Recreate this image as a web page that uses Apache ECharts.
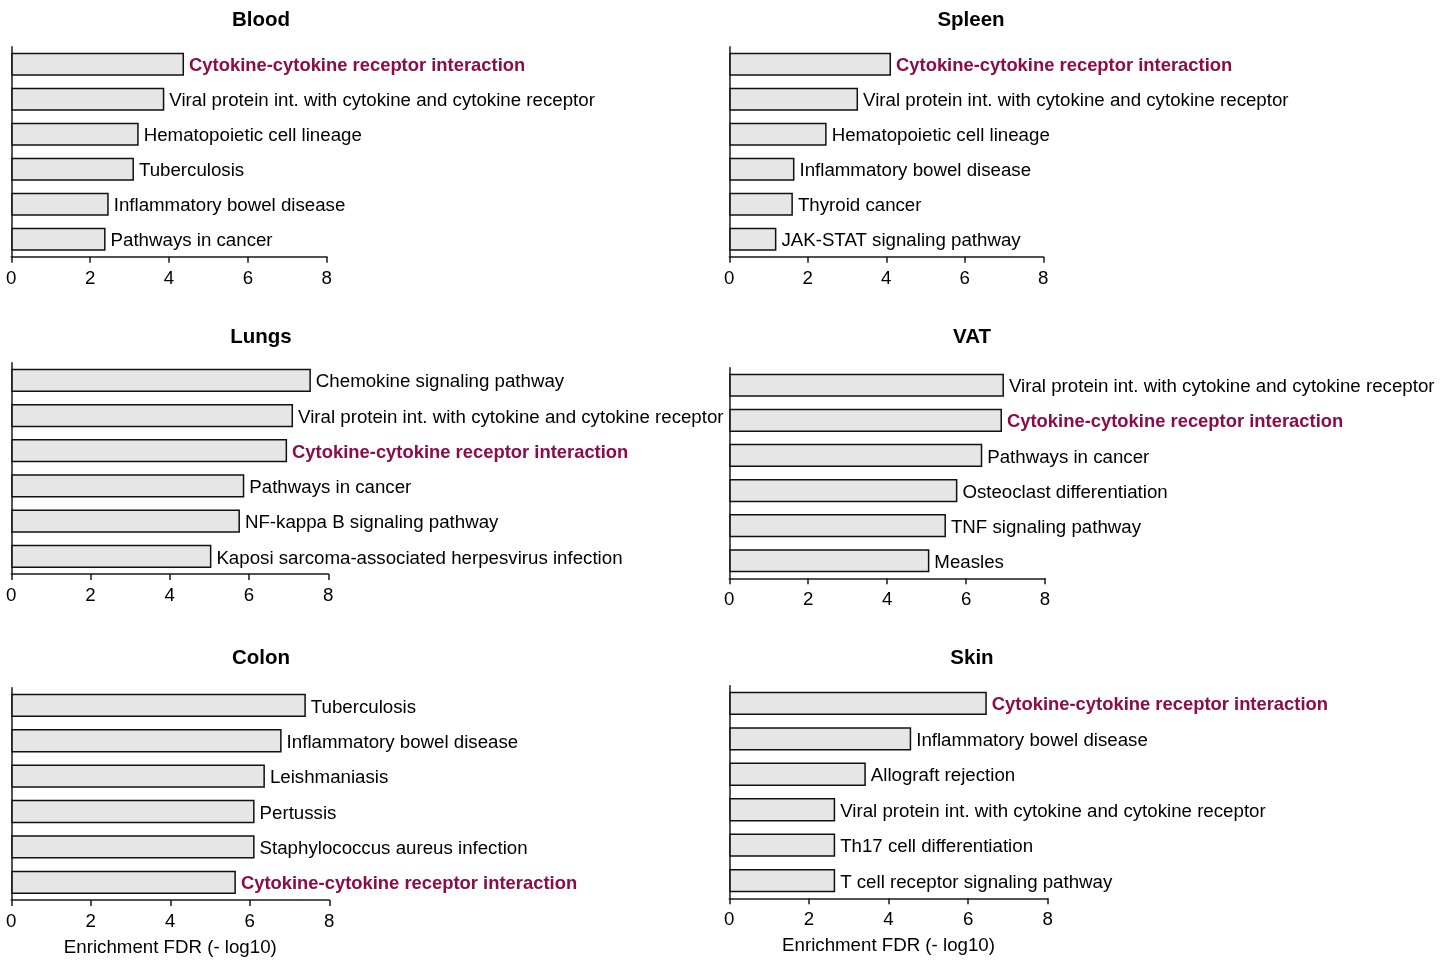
<!DOCTYPE html>
<html>
<head>
<meta charset="utf-8">
<script src="https://cdn.jsdelivr.net/npm/echarts@6/dist/echarts.min.js"></script>
<style>
html,body{margin:0;padding:0;background:#fff;}
#chart{width:1451px;height:960px;}
</style>
</head>
<body>
<div id="chart"></div>
<script>
// ---- Data ----
const panelTitles = ["Blood", "Spleen", "Lungs", "VAT", "Colon", "Skin"];
const highlightTerm = "Cytokine-cytokine receptor interaction";
const xTicks = [0, 2, 4, 6, 8];
const axisTitle = "Enrichment FDR (- log10)";

const bloodTerms = ["Cytokine-cytokine receptor interaction", "Viral protein int. with cytokine and cytokine receptor", "Hematopoietic cell lineage", "Tuberculosis", "Inflammatory bowel disease", "Pathways in cancer"];
const bloodValues = [4.38, 3.88, 3.23, 3.11, 2.47, 2.39];

const spleenTerms = ["Cytokine-cytokine receptor interaction", "Viral protein int. with cytokine and cytokine receptor", "Hematopoietic cell lineage", "Inflammatory bowel disease", "Thyroid cancer", "JAK-STAT signaling pathway"];
const spleenValues = [4.12, 3.28, 2.48, 1.66, 1.62, 1.20];

const lungsTerms = ["Chemokine signaling pathway", "Viral protein int. with cytokine and cytokine receptor", "Cytokine-cytokine receptor interaction", "Pathways in cancer", "NF-kappa B signaling pathway", "Kaposi sarcoma-associated herpesvirus infection"];
const lungsValues = [7.56, 7.11, 6.96, 5.88, 5.77, 5.05];

const vatTerms = ["Viral protein int. with cytokine and cytokine receptor", "Cytokine-cytokine receptor interaction", "Pathways in cancer", "Osteoclast differentiation", "TNF signaling pathway", "Measles"];
const vatValues = [6.96, 6.91, 6.41, 5.78, 5.49, 5.07];

const colonTerms = ["Tuberculosis", "Inflammatory bowel disease", "Leishmaniasis", "Pertussis", "Staphylococcus aureus infection", "Cytokine-cytokine receptor interaction"];
const colonValues = [7.41, 6.80, 6.38, 6.12, 6.12, 5.65];

const skinTerms = ["Cytokine-cytokine receptor interaction", "Inflammatory bowel disease", "Allograft rejection", "Viral protein int. with cytokine and cytokine receptor", "Th17 cell differentiation", "T cell receptor signaling pathway"];
const skinValues = [6.47, 4.57, 3.43, 2.66, 2.66, 2.66];

const panelTerms = [bloodTerms, spleenTerms, lungsTerms, vatTerms, colonTerms, skinTerms];
const panelValues = [bloodValues, spleenValues, lungsValues, vatValues, colonValues, skinValues];

// ---- Layout (pixels) ----
const FONT = 'Arial, "Liberation Sans", Helvetica, sans-serif';
const FS = 18.7;
const grids = [
  {left: 11.3, top: 46.7, width: 315.5, height: 210},
  {left: 729.3, top: 46.7, width: 314, height: 210},
  {left: 11.3, top: 362.7, width: 317, height: 211.3},
  {left: 729.3, top: 367.7, width: 315.7, height: 210.6},
  {left: 11.3, top: 687.7, width: 318, height: 212.3},
  {left: 729.3, top: 685.7, width: 318.4, height: 212.6}
];
const titlePos = [
  {x: 261, y: 10}, {x: 971, y: 10},
  {x: 261, y: 327}, {x: 972, y: 327},
  {x: 261, y: 648}, {x: 972, y: 648}
];
const HL_COLOR = '#8b0b4b';
const AXIS_COLOR = '#1a1a1a';

const option = {
  animation: false,
  backgroundColor: '#fff',
  title: panelTitles.map((t, i) => ({
    text: t, left: titlePos[i].x, top: titlePos[i].y, textAlign: 'center', padding: 0,
    textStyle: {fontFamily: FONT, fontSize: 20.5, fontWeight: 'bold', color: '#000'}
  })),
  grid: grids.map(g => Object.assign({containLabel: false}, g)),
  xAxis: grids.map((g, i) => ({
    type: 'value', gridIndex: i, min: xTicks[0], max: xTicks[xTicks.length - 1], interval: xTicks[1] - xTicks[0],
    splitLine: {show: false},
    axisLine: {show: true, lineStyle: {color: AXIS_COLOR, width: 1.5}},
    axisTick: {show: true, inside: false, length: 6, lineStyle: {color: AXIS_COLOR, width: 1.5}},
    axisLabel: {fontFamily: FONT, fontSize: FS, color: '#000', margin: 12.5},
    name: i >= 4 ? axisTitle : '',
    nameLocation: 'middle', nameGap: 38.5,
    nameTextStyle: {fontFamily: FONT, fontSize: FS, color: '#000'}
  })),
  yAxis: grids.map((g, i) => ({
    type: 'category', gridIndex: i, inverse: true, data: panelTerms[i],
    axisLine: {show: true, lineStyle: {color: AXIS_COLOR, width: 1.5}},
    axisTick: {show: false},
    axisLabel: {show: false},
    splitLine: {show: false}
  })),
  series: panelValues.map((vals, i) => ({
    type: 'bar', xAxisIndex: i, yAxisIndex: i,
    barCategoryGap: '34%',
    itemStyle: {color: '#e6e6e6', borderColor: '#111', borderWidth: 1.5},
    label: {
      show: true, position: 'right', distance: 5, formatter: '{b}', offset: [0, 2],
      fontFamily: FONT, fontSize: FS, color: '#000'
    },
    data: vals.map((v, j) => {
      const name = panelTerms[i][j];
      const item = {value: v, name: name};
      if (name === highlightTerm) {
        item.label = {color: HL_COLOR, fontWeight: 'bold', fontSize: 18.4};
      }
      return item;
    })
  }))
};

const chart = echarts.init(document.getElementById('chart'), null, {renderer: 'canvas'});
chart.setOption(option);
</script>
</body>
</html>
